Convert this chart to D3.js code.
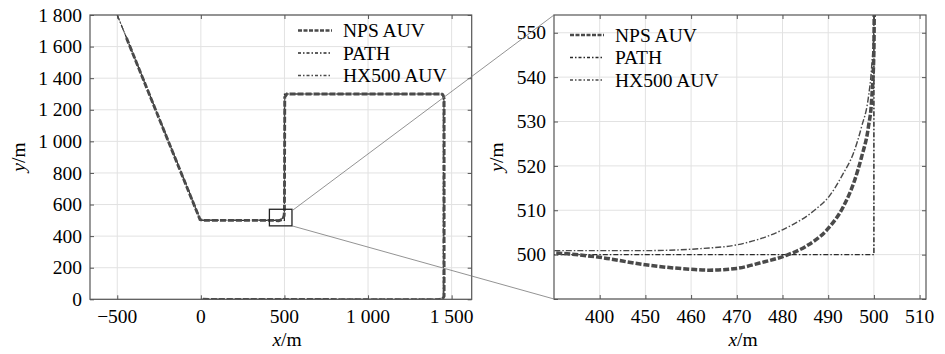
<!DOCTYPE html>
<html>
<head>
<meta charset="utf-8">
<script src="https://cdn.jsdelivr.net/npm/d3@7"></script>
<style>
body { margin: 0; background: #fff; }
svg { font-family: "Liberation Serif", "DejaVu Serif", serif; }
</style>
</head>
<body>
<div id="chart"></div>
<script>
// planned path (whole run)
var pathX = [-500, 0, 500, 500, 1450, 1450, 0];
var pathY = [1800, 500, 500, 1300, 1300, 0, 0];
// vehicle tracks, whole run
var npsX = [-445, -5, 10, 430, 465, 490, 498, 500, 502, 515, 1440, 1450, 1455, 1455, 1445, 1420, 0];
var npsY = [1655, 505, 500, 500, 497, 506, 530, 560, 1280, 1300, 1300, 1290, 1270, 20, 2, -3, 0];
var hxX = [-500, -5, 10, 430, 470, 490, 498, 500, 502, 515, 1440, 1450, 1454, 1454, 1445, 1420, 0];
var hxY = [1800, 505, 501, 501, 502, 513, 532, 560, 1285, 1300, 1300, 1292, 1275, 15, 3, 0, 0];
// zoomed region near the corner (500, 500)
var zPathX = [420, 500, 500];
var zPathY = [500, 500, 560];
var zNpsX = [420, 430, 440, 450, 460, 464, 470, 475, 481, 485, 490, 493.3, 495.8, 497.3, 498.8, 499.5, 500, 500.1];
var zNpsY = [500.8, 500.4, 499.4, 497.7, 496.7, 496.5, 496.9, 498.1, 499.9, 501.8, 505.9, 510.8, 516.8, 522, 528.8, 534.8, 546, 560];
var zHxX = [420, 430, 450, 462.7, 470, 480, 487, 490.4, 493.3, 495.5, 497.3, 498.8, 499.5, 500, 500.1];
var zHxY = [500.9, 500.9, 500.9, 501.4, 502.2, 505.6, 510, 513.4, 518.3, 522.8, 528.8, 535.5, 542.2, 552, 560];
// ticks
var leftXTicks = [-500, 0, 500, 1000, 1500];
var leftYTicks = [0, 200, 400, 600, 800, 1000, 1200, 1400, 1600, 1800];
var rightXTicks = [440, 450, 460, 470, 480, 490, 500, 510];
var rightXLabels = ["400", "450", "460", "470", "480", "490", "500", "510"];
var rightYTicks = [490, 500, 510, 520, 530, 540, 550];
var seriesNames = ["NPS AUV", "PATH", "HX500 AUV"];
// zoom box on the left panel
var boxX = [410, 545];
var boxY = [465, 570];

var W = 945, H = 354;
var svg = d3.select("#chart").append("svg").attr("width", W).attr("height", H);

var loc = d3.formatLocale({decimal: ".", thousands: " ", grouping: [3], currency: ["", ""], minus: "\u2212"});
var fmt = loc.format(",d");

var styles = [
    {color: "#4a4a4a", width: 3.2, dash: "6,2"},
    {color: "#2a2a2a", width: 1.3, dash: "5,2,1.5,2"},
    {color: "#4a4a4a", width: 1.3, dash: "6,2,1.5,2"}
];
var fs = 19.5;

function zip(xs, ys) {
    return xs.map(function(x, i) { return [x, ys[i]]; });
}

function panel(opt) {
    var x = d3.scaleLinear().domain(opt.xd).range(opt.xr);
    var y = d3.scaleLinear().domain(opt.yd).range(opt.yr);
    var g = svg.append("g");

    // grid
    g.selectAll(".gx").data(opt.xt).enter().append("line")
        .attr("x1", d => x(d)).attr("x2", d => x(d))
        .attr("y1", opt.yr[0]).attr("y2", opt.yr[1])
        .attr("stroke", "#e2e2e2").attr("stroke-width", 1);
    g.selectAll(".gy").data(opt.yt).enter().append("line")
        .attr("y1", d => y(d)).attr("y2", d => y(d))
        .attr("x1", opt.xr[0]).attr("x2", opt.xr[1])
        .attr("stroke", "#e2e2e2").attr("stroke-width", 1);

    // inward ticks on all sides
    var tl = 4;
    g.append("g").attr("transform", "translate(0," + opt.yr[0] + ")")
        .call(d3.axisBottom(x).tickValues(opt.xt).tickSize(-tl).tickFormat(""));
    g.append("g").attr("transform", "translate(0," + opt.yr[1] + ")")
        .call(d3.axisTop(x).tickValues(opt.xt).tickSize(-tl).tickFormat(""));
    g.append("g").attr("transform", "translate(" + opt.xr[0] + ",0)")
        .call(d3.axisLeft(y).tickValues(opt.yt).tickSize(-tl).tickFormat(""));
    g.append("g").attr("transform", "translate(" + opt.xr[1] + ",0)")
        .call(d3.axisRight(y).tickValues(opt.yt).tickSize(-tl).tickFormat(""));
    g.selectAll(".domain").remove();
    g.selectAll(".tick line").attr("stroke", "#555");

    // tick labels
    g.selectAll(".xl").data(opt.xt).enter().append("text")
        .attr("x", d => x(d)).attr("y", 323)
        .attr("text-anchor", "middle").attr("font-size", fs).attr("fill", "#000")
        .text((d, i) => opt.xlab(d, i));
    g.selectAll(".yl").data(opt.yt.filter(d => opt.ylabShow(d))).enter().append("text")
        .attr("x", opt.xr[0] - 8).attr("y", d => y(d)).attr("dy", "0.34em")
        .attr("text-anchor", "end").attr("font-size", fs).attr("fill", "#000")
        .text(d => fmt(d));

    // axis titles
    var xt = g.append("text").attr("x", opt.xtitle).attr("y", 346)
        .attr("text-anchor", "middle").attr("font-size", fs).attr("fill", "#000");
    xt.append("tspan").attr("font-style", "italic").text("x");
    xt.append("tspan").text("/m");
    var yt = g.append("text").attr("transform", "translate(" + opt.ytitle + ",157) rotate(-90)")
        .attr("text-anchor", "middle").attr("font-size", fs).attr("fill", "#000");
    yt.append("tspan").attr("font-style", "italic").text("y");
    yt.append("tspan").text("/m");

    // clip + data lines
    var cid = "clip" + opt.id;
    svg.append("clipPath").attr("id", cid).append("rect")
        .attr("x", opt.xr[0]).attr("y", opt.yr[1])
        .attr("width", opt.xr[1] - opt.xr[0]).attr("height", opt.yr[0] - opt.yr[1]);
    var line = d3.line().x(d => x(d[0])).y(d => y(d[1])).curve(opt.curve);
    var lg = g.append("g").attr("clip-path", "url(#" + cid + ")");
    var order = [1, 2, 0];
    order.forEach(function(k) {
        var s = styles[k];
        lg.append("path").datum(opt.series[k])
            .attr("d", line).attr("fill", "none")
            .attr("stroke", s.color).attr("stroke-width", s.width * (opt.wscale || 1))
            .attr("stroke-dasharray", s.dash);
    });

    // legend
    seriesNames.forEach(function(name, i) {
        var s = styles[i];
        var yy = opt.leg[1] + i * 22.5;
        g.append("line").attr("x1", opt.leg[0]).attr("x2", opt.leg[0] + 34)
            .attr("y1", yy).attr("y2", yy)
            .attr("stroke", s.color).attr("stroke-width", i == 0 ? 2.6 : 1.3)
            .attr("stroke-dasharray", i == 0 ? "4,1.5" : "3,2,1.5,2");
        g.append("text").attr("x", opt.leg[0] + 45).attr("y", yy).attr("dy", "0.35em")
            .attr("font-size", fs).attr("fill", "#000").text(name);
    });

    // frame
    g.append("rect").attr("x", opt.xr[0]).attr("y", opt.yr[1])
        .attr("width", opt.xr[1] - opt.xr[0]).attr("height", opt.yr[0] - opt.yr[1])
        .attr("fill", "none").attr("stroke", "#555").attr("stroke-width", 1.2);
    return {x: x, y: y};
}

var L = panel({
    id: "L", xd: [-663, 1620], xr: [90, 471.7], yd: [0, 1800], yr: [299.3, 15],
    xt: leftXTicks, yt: leftYTicks,
    xlab: d => fmt(d), ylabShow: d => true,
    xtitle: 287, ytitle: 25, leg: [298, 30.5],
    curve: d3.curveLinear, wscale: 0.9,
    series: [zip(npsX, npsY), zip(pathX, pathY), zip(hxX, hxY)]
});

var R = panel({
    id: "R", xd: [430, 511.4], xr: [554, 926], yd: [490, 554], yr: [299, 15],
    xt: rightXTicks, yt: rightYTicks,
    xlab: (d, i) => rightXLabels[i], ylabShow: d => d >= 500,
    xtitle: 743, ytitle: 503, leg: [570, 35],
    curve: d3.curveMonotoneX, wscale: 1.1,
    series: [zip(zNpsX, zNpsY), zip(zPathX, zPathY), zip(zHxX, zHxY)]
});

// zoom box and connectors
var bx0 = L.x(boxX[0]), bx1 = L.x(boxX[1]), by0 = L.y(boxY[1]), by1 = L.y(boxY[0]);
svg.append("rect").attr("x", bx0).attr("y", by0).attr("width", bx1 - bx0).attr("height", by1 - by0)
    .attr("fill", "none").attr("stroke", "#222").attr("stroke-width", 1.3);
svg.append("line").attr("x1", bx1).attr("y1", by0 + 1.5).attr("x2", 554).attr("y2", 15)
    .attr("stroke", "#777").attr("stroke-width", 0.8);
svg.append("line").attr("x1", bx1).attr("y1", by1).attr("x2", 554).attr("y2", 299)
    .attr("stroke", "#777").attr("stroke-width", 0.8);
</script>
</body>
</html>
